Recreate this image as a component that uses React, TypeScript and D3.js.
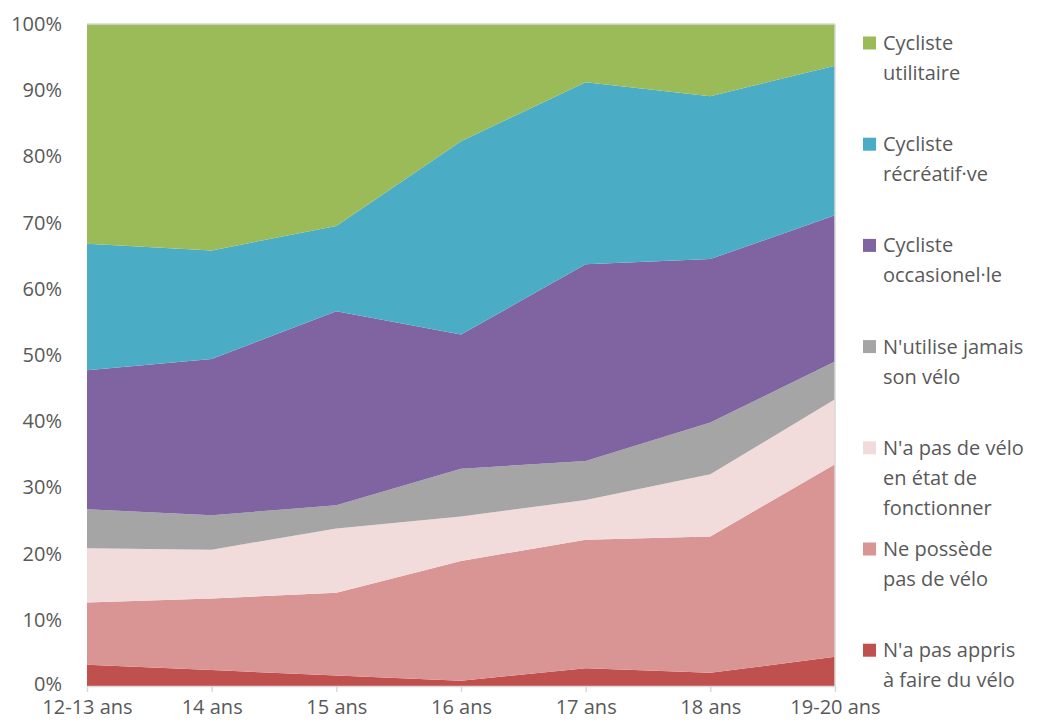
import React, { useEffect, useRef } from "react";
import * as d3 from "d3";

// tranches d'âge
const ages = ["12-13 ans", "14 ans", "15 ans", "16 ans", "17 ans", "18 ans", "19-20 ans"];

// parts (%), du bas vers le haut
const pasAppris = [3.2, 2.4, 1.6, 0.8, 2.7, 2.0, 4.4];
const nePossedePas = [9.4, 10.8, 12.5, 18.1, 19.4, 20.6, 29.1];
const pasEnEtat = [8.2, 7.4, 9.7, 6.7, 6.0, 9.4, 9.8];
const jamais = [5.9, 5.2, 3.5, 7.2, 5.9, 7.8, 5.7];
const occasionnel = [21.0, 23.6, 29.3, 20.3, 29.7, 24.7, 22.1];
const recreatif = [19.1, 16.4, 12.9, 29.2, 27.5, 24.6, 22.6];
const utilitaire = [33.2, 34.2, 30.5, 17.7, 8.8, 10.9, 6.3];

const seriesKeys = ["appris", "possede", "etat", "jamais", "occas", "recre", "util"];
const seriesValues = [pasAppris, nePossedePas, pasEnEtat, jamais, occasionnel, recreatif, utilitaire];
const seriesColors = ["#c0504d", "#d99594", "#f2dcdb", "#a5a5a5", "#8064a2", "#4bacc6", "#9bbb59"];

// légende, du haut vers le bas
const legendLabels = [
  ["Cycliste", "utilitaire"],
  ["Cycliste", "récréatif·ve"],
  ["Cycliste", "occasionel·le"],
  ["N'utilise jamais", "son vélo"],
  ["N'a pas de vélo", "en état de", "fonctionner"],
  ["Ne possède", "pas de vélo"],
  ["N'a pas appris", "à faire du vélo"],
];
const legendColors = ["#9bbb59", "#4bacc6", "#8064a2", "#a5a5a5", "#f2dcdb", "#d99594", "#c0504d"];

const yTicks = [0, 0.1, 0.2, 0.3, 0.4, 0.5, 0.6, 0.7, 0.8, 0.9, 1];

function App() {
  const svgRef = useRef(null);

  useEffect(() => {
    const svg = d3.select(svgRef.current);
    svg.selectAll("*").remove();

    const left = 87, right = 835, top = 24, bottom = 686;
    const font = "'Open Sans', Lato, sans-serif";
    const textColor = "#595959";
    const fs = "20px";

    const rows = ages.map((a, i) => {
      const r: any = { age: a };
      seriesKeys.forEach((k, j) => (r[k] = seriesValues[j][i]));
      return r;
    });

    const stacked = d3.stack().keys(seriesKeys).offset(d3.stackOffsetExpand)(rows);

    const x = d3.scalePoint().domain(ages).range([left, right]);
    const y = d3.scaleLinear().domain([0, 1]).range([bottom, top]);

    const area = d3
      .area<any>()
      .x((d) => x(d.data.age))
      .y0((d) => y(d[0]))
      .y1((d) => y(d[1]));

    svg.append("g")
      .selectAll("path")
      .data(stacked)
      .join("path")
      .attr("d", area)
      .attr("fill", (d, i) => seriesColors[i]);

    // cadre gris clair en haut et à droite
    svg.append("line")
      .attr("x1", left).attr("x2", right)
      .attr("y1", top).attr("y2", top)
      .attr("stroke", "#d9d9d9").attr("stroke-width", 1.5);
    svg.append("line")
      .attr("x1", right).attr("x2", right)
      .attr("y1", top).attr("y2", bottom)
      .attr("stroke", "#d9d9d9").attr("stroke-width", 1.5);

    // axe x
    const xAxis = d3.axisBottom(x).tickSizeInner(6).tickSizeOuter(0).tickPadding(8);
    const gx = svg.append("g").attr("transform", `translate(0,${bottom})`).call(xAxis);
    gx.select(".domain").attr("stroke", "#d9d9d9").attr("stroke-width", 1.5);
    gx.selectAll(".tick line").attr("stroke", "#d9d9d9").attr("stroke-width", 1.5);
    gx.selectAll("text")
      .attr("fill", textColor)
      .style("font-family", font)
      .style("font-size", fs);

    // axe y
    const yAxis = d3.axisLeft(y).tickValues(yTicks).tickFormat(d3.format(".0%")).tickSize(0).tickPadding(25);
    const gy = svg.append("g").attr("transform", `translate(${left},0)`).call(yAxis);
    gy.select(".domain").remove();
    gy.selectAll("text")
      .attr("fill", textColor)
      .style("font-family", font)
      .style("font-size", fs);
    // le 0 % remonte un peu pour laisser de la place aux âges
    gy.selectAll("text").filter((d: any) => d === 0).attr("dy", "0.2em");

    // légende
    const legendTop = 43, legendStep = 101.2, lineH = 30;
    const lg = svg.append("g");
    legendLabels.forEach((lines, i) => {
      const cy = legendTop + i * legendStep;
      lg.append("rect")
        .attr("x", 863).attr("y", cy - 6.5)
        .attr("width", 13).attr("height", 13)
        .attr("fill", legendColors[i]);
      lines.forEach((t, j) => {
        lg.append("text")
          .attr("x", 883)
          .attr("y", cy + j * lineH)
          .attr("dy", "0.35em")
          .attr("fill", textColor)
          .style("font-family", font)
          .style("font-size", fs)
          .text(t);
      });
    });
  }, []);

  return (
    <svg ref={svgRef} width="1038" height="726" style={{ position: "absolute", left: 0, top: 0 }}></svg>
  );
}

export default App;
